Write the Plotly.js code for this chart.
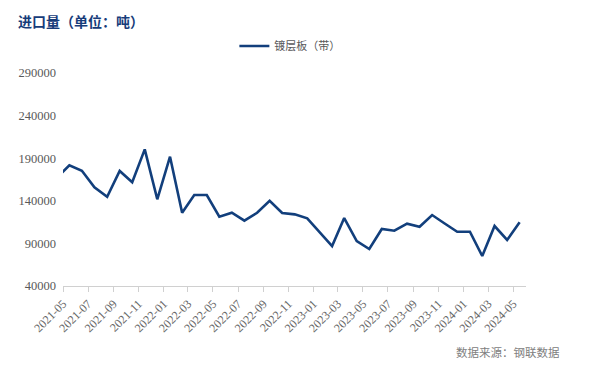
<!DOCTYPE html>
<html>
<head>
<meta charset="utf-8">
<script src="https://cdn.plot.ly/plotly-3.0.1.min.js"></script>
<style>
  html, body { margin: 0; padding: 0; background: #fff; }
  #chart { width: 590px; height: 371px; }
</style>
</head>
<body>
<div id="chart"></div>
<script>
// Months (the first, 2021-04, is only partly visible at the left edge)
const months = [
  '2021-04','2021-05','2021-06','2021-07','2021-08','2021-09','2021-10','2021-11','2021-12',
  '2022-01','2022-02','2022-03','2022-04','2022-05','2022-06','2022-07','2022-08','2022-09',
  '2022-10','2022-11','2022-12','2023-01','2023-02','2023-03','2023-04','2023-05','2023-06',
  '2023-07','2023-08','2023-09','2023-10','2023-11','2023-12','2024-01','2024-02','2024-03',
  '2024-04','2024-05'
];
// 镀层板（带） import volume, tonnes
const importVolume = [
  167000,181700,175300,155800,144800,175000,161700,200400,141800,
  191800,126000,146800,146800,121300,126000,116700,126000,140100,
  125700,124100,119400,103100,86900,119800,92800,83400,106900,
  104900,113100,109600,123300,113400,103700,103700,75200,110400,
  94000,114800
];
const seriesName = '镀层板（带）';
const titleText = '进口量（单位：吨）';
const sourceText = '数据来源：钢联数据';
const yTicks = [40000, 90000, 140000, 190000, 240000, 290000];

const trace = {
  x: months,
  y: importVolume,
  type: 'scatter',
  mode: 'lines',
  name: seriesName,
  xperiod: 'M1',
  xperiodalignment: 'middle',
  line: { color: '#123F7C', width: 2.6 },
  hoverinfo: 'skip'
};

const layout = {
  width: 590,
  height: 371,
  margin: { l: 63, r: 64, t: 73, b: 85 },
  paper_bgcolor: '#ffffff',
  plot_bgcolor: '#ffffff',
  showlegend: true,
  legend: {
    orientation: 'h',
    x: 0.49, xanchor: 'center',
    yref: 'container',
    y: 1 - 46 / 371, yanchor: 'middle',
    font: { family: 'Noto Sans CJK SC', size: 11, color: '#595959' },
    bgcolor: 'rgba(0,0,0,0)'
  },
  title: {
    text: '<b>' + titleText + '</b>',
    xref: 'container', x: 18 / 590, xanchor: 'left',
    yref: 'container', y: 1 - 22 / 371, yanchor: 'middle',
    font: { family: 'Noto Sans CJK SC', size: 14, color: '#173C7A' }
  },
  xaxis: {
    type: 'date',
    range: ['2021-05-01', '2024-06-01'],
    tick0: '2021-05-01',
    dtick: 'M2',
    tickformat: '%Y-%m',
    tickangle: -45,
    showgrid: false,
    zeroline: false,
    showline: true,
    linecolor: '#d0d0d0',
    linewidth: 1,
    ticks: 'outside',
    ticklen: 5,
    tickcolor: '#d0d0d0',
    tickfont: { family: 'Liberation Serif', size: 12, color: '#666666' },
    fixedrange: true
  },
  yaxis: {
    range: [40000, 290000],
    tickvals: yTicks,
    ticktext: yTicks.map(String),
    showgrid: false,
    zeroline: false,
    showline: false,
    ticks: '',
    ticklabelstandoff: 6,
    tickfont: { family: 'Liberation Serif', size: 12.5, color: '#595959' },
    fixedrange: true
  },
  annotations: [{
    text: sourceText,
    xref: 'paper', yref: 'paper',
    x: (562 - 63) / 463, xanchor: 'right',
    y: -(352 - 286) / 213, yanchor: 'middle',
    showarrow: false,
    font: { family: 'Noto Sans CJK SC', size: 11.5, color: '#808080' }
  }]
};

Plotly.newPlot('chart', [trace], layout, { staticPlot: true, displayModeBar: false });
</script>
</body>
</html>
